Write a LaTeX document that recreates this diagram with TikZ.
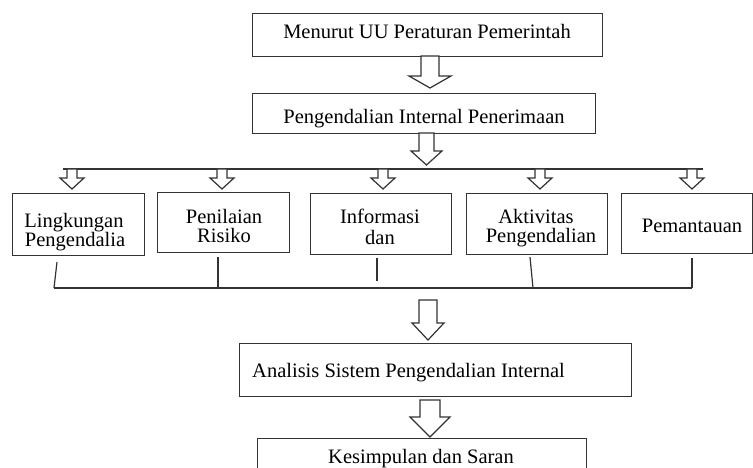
\documentclass[tikz,border=0pt]{standalone}
\usepackage{fontspec}
\setmainfont{Liberation Serif}
\definecolor{ink}{HTML}{333333}
\newcommand\hollowarrow[6]{% cx, shaft half, head half, top, head start, tip
  \draw[arr] ({#1-#2},#4) -- ({#1-#2},#5) -- ({#1-#3},#5) -- (#1,#6) -- ({#1+#3},#5) -- ({#1+#2},#5) -- ({#1+#2},#4) -- cycle;}
\begin{document}
\begin{tikzpicture}[x=1pt,y=-1pt,
  box/.style={draw=ink, line width=1.3pt, fill=none, inner sep=0pt, anchor=north west},
  txt/.style={inner sep=0pt, anchor=base, font=\fontsize{20.5}{20}\selectfont, text=black},
  arr/.style={draw=ink, line width=1.2pt, fill=white, line join=miter},
  conn/.style={draw=ink, line width=1.2pt}]
\useasboundingbox (0,0) rectangle (753,468);
\clip (0,0) rectangle (753,468);
% top boxes
\node[box, minimum width=350pt, minimum height=43pt] (b1) at (252,13) {};
\node[txt] (t1) at (427,39) {Menurut UU Peraturan Pemerintah};
\node[box, minimum width=343pt, minimum height=40pt] (b2) at (252,93) {};
\node[txt] (t2) at (424,124) {Pengendalian Internal Penerimaan};
\hollowarrow{430}{9}{21}{56}{76}{88}
\hollowarrow{426.5}{7.5}{15.5}{133}{151}{165}
% top bus
\coordinate (busL) at (63,169);
\coordinate (busR) at (703,169);
\draw[conn] (busL) -- (busR);
\foreach \cx in {72,222,383,540,692}{\hollowarrow{\cx}{5}{12}{169}{178}{189}}
% row boxes
\node[box, minimum width=132pt, minimum height=62pt] (bL) at (12,193) {};
\node[txt] (tL1) at (74,227) {Lingkungan};
\node[txt] (tL2) at (75,247) {Pengendalia};
\node[box, minimum width=132pt, minimum height=60pt] (bP) at (157,192) {};
\node[txt] (tP1) at (224,223) {Penilaian};
\node[txt] (tP2) at (224,243) {Risiko};
\node[box, minimum width=141pt, minimum height=61pt] (bI) at (310,193) {};
\node[txt] (tI1) at (380,224) {Informasi};
\node[txt] (tI2) at (380,244) {dan};
\node[box, minimum width=141pt, minimum height=61pt] (bA) at (466,193) {};
\node[txt] (tA1) at (536,223) {Aktivitas};
\node[txt] (tA2) at (541,242) {Pengendalian};
\node[box, minimum width=131pt, minimum height=60pt] (bM) at (621,193) {};
\node[txt] (tM) at (692,233) {Pemantauan};
% drop lines
\coordinate (dL1) at (57,262); \coordinate (dL2) at (54,288);
\coordinate (dP1) at (218,257); \coordinate (dP2) at (218,288);
\coordinate (dI1) at (377,258); \coordinate (dI2) at (377,281);
\coordinate (dA1) at (530,257); \coordinate (dA2) at (533,288);
\coordinate (dM1) at (692,258); \coordinate (dM2) at (692,288);
\draw[conn] (dL1) -- (dL2);
\draw[conn] (dP1) -- (dP2);
\draw[conn] (dI1) -- (dI2);
\draw[conn] (dA1) -- (dA2);
\draw[conn] (dM1) -- (dM2);
\coordinate (bbL) at (54,288); \coordinate (bbR) at (692,288);
\draw[conn] (bbL) -- (bbR);
% lower part
\hollowarrow{428}{9}{16}{300}{323}{340}
\node[box, minimum width=392pt, minimum height=53pt] (b3) at (239,343) {};
\node[txt, anchor=base west] (t3) at (252,377) {Analisis Sistem Pengendalian Internal};
\hollowarrow{430}{10}{20}{400}{417}{437}
\node[box, minimum width=329pt, minimum height=50pt] (b4) at (257,438) {};
\node[txt] (t4) at (421,463) {Kesimpulan dan Saran};
\end{tikzpicture}
\end{document}
